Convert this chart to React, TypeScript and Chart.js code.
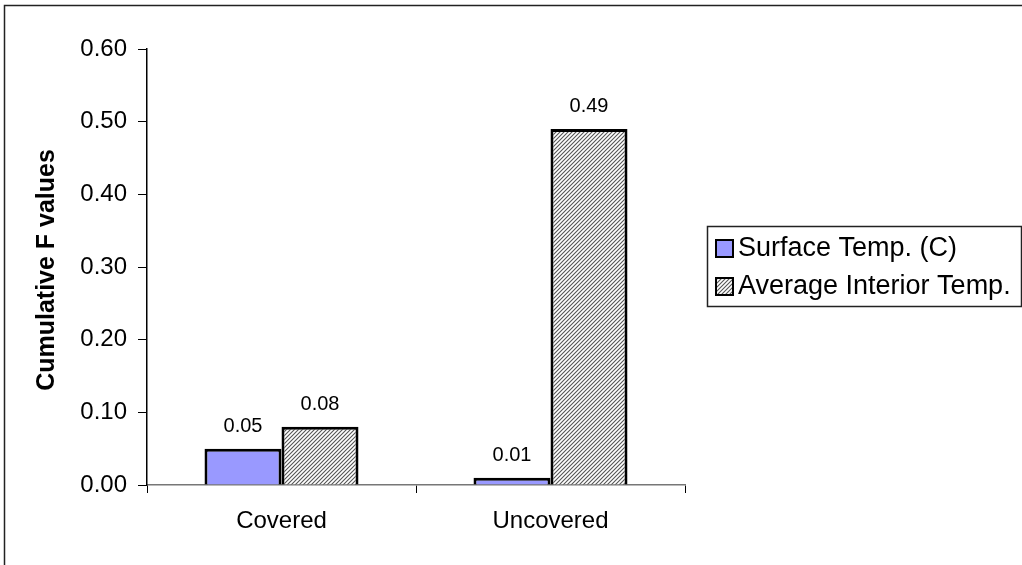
import React, { useEffect, useRef } from "react";
import { Chart, registerables } from "chart.js";

Chart.register(...registerables);

const categories = ["Covered", "Uncovered"];
const surfaceTemp = [0.05, 0.01];
const interiorTemp = [0.08, 0.49];
const seriesNames = ["Surface Temp. (C)", "Average Interior Temp."];
const yTitle = "Cumulative F values";

const FONT = "'Liberation Sans', Arial, sans-serif";

// Diagonal "///" hatch used for the interior-temperature series
function makeHatch(): CanvasPattern | string {
  const s = 4;
  const c = document.createElement("canvas");
  c.width = s;
  c.height = s;
  const g = c.getContext("2d");
  if (!g) return "#999";
  g.fillStyle = "#ffffff";
  g.fillRect(0, 0, s, s);
  g.strokeStyle = "#555555";
  g.lineWidth = 1.1;
  g.beginPath();
  g.moveTo(-1, s + 1);
  g.lineTo(s + 1, -1);
  g.moveTo(-1, 1);
  g.lineTo(1, -1);
  g.moveTo(s - 1, s + 1);
  g.lineTo(s + 1, s - 1);
  g.stroke();
  const p = g.createPattern(c, "repeat");
  return p || "#999";
}

export default function App() {
  const ref = useRef<HTMLCanvasElement>(null);

  useEffect(() => {
    document.body.style.margin = "0";
    const canvas = ref.current;
    if (!canvas) return;
    const hatch = makeHatch();
    const surfaceFill = "#9999ff";

    const frame = {
      id: "frame",
      beforeDraw(chart: any) {
        const ctx = chart.ctx;
        ctx.save();
        ctx.fillStyle = "#ffffff";
        ctx.fillRect(0, 0, chart.width, chart.height);
        ctx.strokeStyle = "#222";
        ctx.lineWidth = 1.5;
        ctx.strokeRect(4.5, 5.5, chart.width + 20, chart.height + 20);
        ctx.restore();
      },
    };

    const extras = {
      id: "extras",
      afterDraw(chart: any) {
        const ctx = chart.ctx;
        ctx.save();
        // value labels above bars
        ctx.fillStyle = "#000";
        ctx.font = `20px ${FONT}`;
        ctx.textAlign = "center";
        ctx.textBaseline = "bottom";
        chart.data.datasets.forEach((ds: any, di: number) => {
          const meta = chart.getDatasetMeta(di);
          meta.data.forEach((bar: any, i: number) => {
            ctx.fillText(Number(ds.data[i]).toFixed(2), bar.x, bar.y - 12);
          });
        });

        // rotated y-axis title
        ctx.save();
        ctx.translate(47, (chart.chartArea.top + chart.chartArea.bottom) / 2 + 3);
        ctx.rotate(-Math.PI / 2);
        ctx.font = `bold 25px ${FONT}`;
        ctx.textAlign = "center";
        ctx.textBaseline = "middle";
        ctx.fillText(yTitle, 0, 0);
        ctx.restore();

        // legend box
        const lx = 707, ly = 226, lw = 314, lh = 80;
        ctx.strokeStyle = "#222";
        ctx.lineWidth = 1.5;
        ctx.strokeRect(lx + 0.5, ly + 0.5, lw, lh);
        const rows = [ly + 22, ly + 60];
        const fills = [surfaceFill, hatch];
        ctx.font = `27px ${FONT}`;
        ctx.textAlign = "left";
        ctx.textBaseline = "middle";
        rows.forEach((ry, k) => {
          ctx.fillStyle = fills[k] as any;
          ctx.fillRect(716, ry - 8, 17, 17);
          ctx.strokeStyle = "#000";
          ctx.lineWidth = 2;
          ctx.strokeRect(716, ry - 8, 17, 17);
          ctx.fillStyle = "#000";
          ctx.fillText(seriesNames[k], 738, ry + 1);
        });
        ctx.restore();
      },
    };

    const chart = new Chart(canvas, {
      type: "bar",
      data: {
        labels: categories,
        datasets: [
          {
            label: seriesNames[0],
            data: surfaceTemp,
            backgroundColor: surfaceFill,
            borderColor: "#000",
            borderWidth: 3,
            categoryPercentage: 0.5725,
            barPercentage: 1,
          },
          {
            label: seriesNames[1],
            data: interiorTemp,
            backgroundColor: hatch as any,
            borderColor: "#000",
            borderWidth: 3,
            categoryPercentage: 0.5725,
            barPercentage: 1,
          },
        ],
      },
      options: {
        animation: false,
        responsive: false,
        devicePixelRatio: 1,
        layout: { padding: { left: 0, top: 49, right: 1022 - 685, bottom: 0 } },
        plugins: {
          legend: { display: false },
          tooltip: { enabled: false },
        },
        scales: {
          x: {
            afterFit(scale: any) {
              scale.height = 565 - 485;
            },
            grid: {
              offset: true,
              drawOnChartArea: false,
              drawTicks: true,
              tickLength: 8,
              color: "#000",
              lineWidth: 1,
            },
            border: { display: true, color: "#777", width: 1.5 },
            ticks: {
              color: "#000",
              font: { family: FONT, size: 24 },
              padding: 14,
            },
          },
          y: {
            min: 0,
            max: 0.6,
            afterFit(scale: any) {
              scale.width = 147;
            },
            grid: {
              drawOnChartArea: false,
              drawTicks: true,
              tickLength: 9,
              color: "#000",
              lineWidth: 1,
            },
            border: { display: true, color: "#000", width: 1.5 },
            ticks: {
              stepSize: 0.1,
              color: "#000",
              font: { family: FONT, size: 24 },
              padding: 11,
              callback: (v: any) => Number(v).toFixed(2),
            },
          },
        },
      },
      plugins: [frame, extras],
    });

    return () => chart.destroy();
  }, []);

  return <canvas ref={ref} width={1022} height={565} style={{ display: "block" }} />;
}
